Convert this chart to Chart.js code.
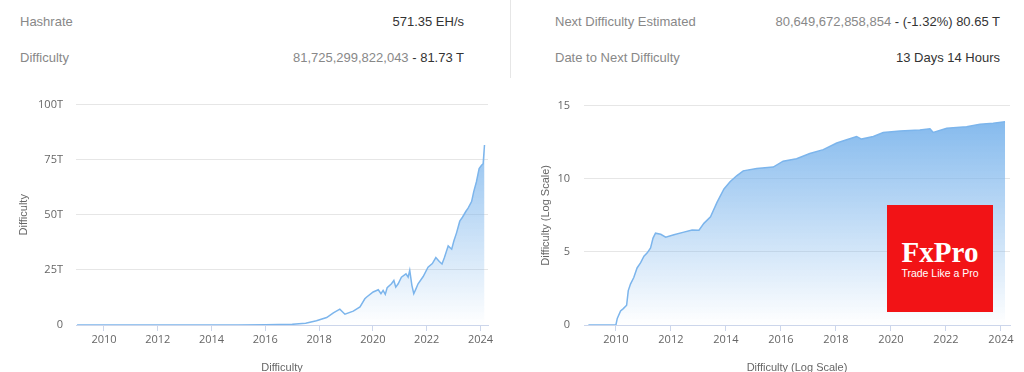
<!DOCTYPE html>
<html>
<head>
<meta charset="utf-8">
<script src="https://cdn.jsdelivr.net/npm/chart.js@4.4.1/dist/chart.umd.min.js"></script>
<style>
  body { margin: 0; width: 1024px; height: 372px; overflow: hidden; background: #fff; position: relative; font-family: Arial, "Liberation Sans", sans-serif; }
  .row { position: absolute; font-size: 13px; line-height: 16px; white-space: nowrap; }
  .lbl { color: #888; }
  .val { color: #333; text-align: right; }
  .val .num { color: #888; }
  #sep { position: absolute; left: 510px; top: 0; width: 1px; height: 78px; background: #e6e6e6; }
  .box { position: absolute; top: 85px; width: 512px; height: 295px; }
  #logo { position: absolute; left: 887px; top: 205px; width: 106px; height: 107px; background: #f21316; color: #fff; text-align: center; }
  #logo .big { position: absolute; left: 0; right: 0; top: 31px; font-family: "Liberation Serif", "DejaVu Serif", serif; font-weight: bold; font-size: 29px; line-height: 32px; }
  #logo .small { position: absolute; left: 0; right: 0; top: 61px; font-size: 10.5px; line-height: 14px; }
</style>
</head>
<body>

<div class="row lbl" style="left:20px; top:14px;">Hashrate</div>
<div class="row val" style="right:560px; top:14px;">571.35 EH/s</div>
<div class="row lbl" style="left:20px; top:50px;">Difficulty</div>
<div class="row val" style="right:560px; top:50px;"><span class="num">81,725,299,822,043</span> - 81.73 T</div>

<div id="sep"></div>

<div class="row lbl" style="left:555px; top:14px;">Next Difficulty Estimated</div>
<div class="row val" style="right:24px; top:14px;"><span class="num">80,649,672,858,854</span> - (-1.32%) 80.65 T</div>
<div class="row lbl" style="left:555px; top:50px;">Date to Next Difficulty</div>
<div class="row val" style="right:24px; top:50px;">13 Days 14 Hours</div>

<div class="box" style="left:0;"><canvas id="diff" width="512" height="295"></canvas></div>
<div class="box" style="left:512px;"><canvas id="logdiff" width="512" height="295"></canvas></div>

<div id="logo"><div class="big">FxPro</div><div class="small">Trade Like a Pro</div></div>

<script>
// difficulty in T, x = year
var diffYears = [2009.0, 2013.0, 2014.0, 2015.0, 2016.0, 2016.5, 2017.0, 2017.5, 2017.9, 2018.28,
  2018.53, 2018.77, 2018.96, 2019.27, 2019.52, 2019.7, 2019.77, 2020.01, 2020.2, 2020.3,
  2020.38, 2020.46, 2020.53, 2020.69, 2020.78, 2020.85, 2020.94, 2021.06, 2021.23, 2021.31,
  2021.37, 2021.45, 2021.52, 2021.6, 2021.68, 2021.87, 2022.05, 2022.21, 2022.34, 2022.47,
  2022.57, 2022.66, 2022.8, 2022.93, 2023.01, 2023.11, 2023.23, 2023.33, 2023.46, 2023.54,
  2023.67, 2023.75, 2023.85, 2023.95, 2024.04, 2024.1, 2024.15];
var diffValues = [0, 0.003, 0.002, 0.04, 0.1, 0.2, 0.3, 0.8, 1.9, 3.4,
  5.5, 7.2, 4.9, 6.3, 8.2, 11.9, 12.7, 15.0, 16.0, 14.2,
  15.7, 13.9, 16.9, 18.7, 20.2, 17.2, 18.7, 21.7, 23.2, 21.7,
  24.8, 18.0, 14.2, 16.4, 18.7, 22.0, 26.2, 27.9, 30.6, 28.8,
  27.7, 30.6, 35.9, 34.4, 38.1, 41.8, 47.1, 48.9, 51.6, 53.0,
  56.0, 60.5, 65.0, 71.0, 72.5, 73.2, 81.7];

// log10 of difficulty
var logYears = [2009.0, 2010.0, 2010.05, 2010.17, 2010.27, 2010.39, 2010.45, 2010.53, 2010.65, 2010.77,
  2010.9, 2011.02, 2011.14, 2011.26, 2011.35, 2011.44, 2011.63, 2011.81, 2012.11, 2012.47,
  2012.77, 2013.02, 2013.2, 2013.44, 2013.68, 2013.93, 2014.15, 2014.39, 2014.63, 2015.12,
  2015.72, 2016.08, 2016.57, 2017.05, 2017.54, 2018.03, 2018.39, 2018.75, 2018.93, 2019.36,
  2019.72, 2020.33, 2021.05, 2021.42, 2021.54, 2022.03, 2022.75, 2023.24, 2023.72, 2024.15];
var logValues = [0, 0, 0.45, 0.96, 1.12, 1.35, 2.35, 2.8, 3.25, 3.9,
  4.26, 4.7, 4.93, 5.27, 5.94, 6.28, 6.2, 6.0, 6.17, 6.35,
  6.5, 6.48, 6.95, 7.4, 8.4, 9.3, 9.8, 10.2, 10.54, 10.7,
  10.8, 11.2, 11.37, 11.72, 11.99, 12.44, 12.66, 12.89, 12.71, 12.89,
  13.16, 13.27, 13.34, 13.41, 13.16, 13.45, 13.56, 13.72, 13.79, 13.9];

var tickFont = { family: "'Open Sans', sans-serif", size: 11 };
var titleFont = { family: "Arial, 'Liberation Sans', sans-serif", size: 11 };

function pairs(xs, ys) {
  return xs.map(function (x, i) { return { x: x, y: ys[i] }; });
}

function areaFill(ctx) {
  var area = ctx.chart.chartArea;
  if (!area) return 'rgba(124,181,236,0.5)';
  var g = ctx.chart.ctx.createLinearGradient(0, area.top, 0, area.bottom);
  g.addColorStop(0, 'rgba(124,181,236,1)');
  g.addColorStop(1, 'rgba(124,181,236,0)');
  return g;
}

function makeChart(id, data, opt) {
  return new Chart(document.getElementById(id), {
    type: 'line',
    data: {
      datasets: [{
        data: data,
        borderColor: '#7cb5ec',
        borderWidth: 1.5,
        backgroundColor: areaFill,
        fill: 'origin',
        pointRadius: 0,
        tension: 0
      }]
    },
    options: {
      responsive: false,
      animation: false,
      layout: { padding: { top: 17, right: opt.padRight, left: 0, bottom: 0 } },
      plugins: { legend: { display: false }, tooltip: { enabled: false } },
      scales: {
        x: {
          type: 'linear',
          min: opt.xMin,
          max: opt.xMax,
          afterFit: function (s) { s.height = 55; },
          grid: { drawOnChartArea: false, drawTicks: true, tickLength: 6, color: '#ccd6eb' },
          border: { display: true, color: '#ccd6eb' },
          ticks: {
            stepSize: 2, includeBounds: false, maxRotation: 0, padding: 2,
            color: '#666', font: tickFont,
            callback: function (v) { return String(v); }
          },
          title: { display: true, text: opt.xTitle, color: '#666', font: titleFont, padding: { top: 0, bottom: 5 } }
        },
        y: {
          min: 0,
          max: opt.yMax,
          afterFit: function (s) { s.width = opt.yWidth; },
          grid: { color: '#e6e6e6', drawTicks: false },
          border: { display: false },
          ticks: {
            stepSize: opt.yStep, padding: opt.tickPad,
            color: '#666', font: tickFont,
            callback: opt.yFormat
          },
          title: { display: true, text: opt.yTitle, color: '#666', font: titleFont, padding: { top: opt.titlePad, bottom: 0 } }
        }
      }
    }
  });
}

makeChart('diff', pairs(diffYears, diffValues), {
  padRight: 24, xMin: 2008.96, xMax: 2024.28, xTitle: 'Difficulty',
  yMax: 100, yStep: 25, yWidth: 76, tickPad: 13, titlePad: 17,
  yTitle: 'Difficulty',
  yFormat: function (v) { return v === 0 ? '0' : v + 'T'; }
});

makeChart('logdiff', pairs(logYears, logValues), {
  padRight: 14, xMin: 2008.84, xMax: 2024.33, xTitle: 'Difficulty (Log Scale)',
  yMax: 15, yStep: 5, yWidth: 72, tickPad: 14, titlePad: 27,
  yTitle: 'Difficulty (Log Scale)',
  yFormat: function (v) { return String(v); }
});
</script>
</body>
</html>
